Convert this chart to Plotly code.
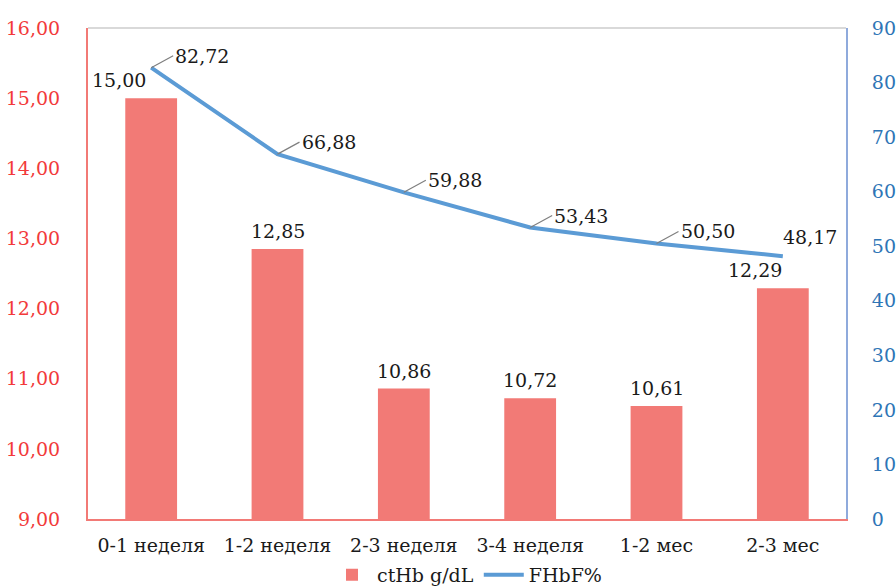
import plotly.graph_objects as go

categories = ["0-1 неделя", "1-2 неделя", "2-3 неделя", "3-4 неделя", "1-2 мес", "2-3 мес"]
cthb = [15.00, 12.85, 10.86, 10.72, 10.61, 12.29]
fhbf = [82.72, 66.88, 59.88, 53.43, 50.50, 48.17]
left_ticks = [9, 10, 11, 12, 13, 14, 15, 16]
right_ticks = [0, 10, 20, 30, 40, 50, 60, 70, 80, 90]

BAR_COLOR = "#F27A76"
LINE_COLOR = "#5B9BD5"
LEFT_COLOR = "#F23A3A"
RIGHT_COLOR = "#2E75B6"
FONT = "DejaVu Serif"
SIZE = 19


def fmt(v):
    return f"{v:.2f}".replace(".", ",")


fig = go.Figure()
fig.add_trace(go.Bar(
    x=categories, y=cthb, name="ctHb g/dL",
    marker=dict(color=BAR_COLOR, line=dict(width=0)),
    width=0.41,
))
fig.add_trace(go.Scatter(
    x=categories, y=fhbf, name="FHbF%", yaxis="y2", mode="lines",
    line=dict(color=LINE_COLOR, width=4),
))

# Bar value labels (first and last nudged left)
bar_shift = [-32, 0, 0, 0, 0, -28]
for c, v, s in zip(categories, cthb, bar_shift):
    fig.add_annotation(
        x=c, y=v, xref="x", yref="y", text=fmt(v), showarrow=False,
        yanchor="bottom", yshift=5, xshift=s,
        font=dict(family=FONT, size=SIZE, color="#1a1a1a"),
    )

# Line value labels with short gray leader lines
for i, (c, v) in enumerate(zip(categories, fhbf)):
    if i == len(categories) - 1:
        fig.add_annotation(
            x=c, y=v, xref="x", yref="y2", text=fmt(v), showarrow=False,
            xanchor="left", yanchor="bottom", xshift=-2, yshift=6,
            font=dict(family=FONT, size=SIZE, color="#1a1a1a"),
        )
    else:
        fig.add_annotation(
            x=c, y=v, xref="x", yref="y2", text=fmt(v), showarrow=True,
            arrowhead=0, arrowwidth=1.2, arrowcolor="#7f7f7f",
            ax=22, ay=-12, xanchor="left", yanchor="middle",
            font=dict(family=FONT, size=SIZE, color="#1a1a1a"),
        )

# light top border of the plot area
fig.add_shape(type="line", xref="paper", yref="paper", x0=0, x1=1, y0=1, y1=1,
              line=dict(color="#D9D9D9", width=2))

fig.update_layout(
    width=896, height=588,
    margin=dict(l=88, r=50, t=28, b=69, autoexpand=False),
    plot_bgcolor="white", paper_bgcolor="white",
    font=dict(family=FONT, size=SIZE, color="#1a1a1a"),
    bargap=0.59,
    showlegend=True,
    legend=dict(orientation="h", x=0.5, xanchor="center",
                y=-0.075, yanchor="top",
                bgcolor="rgba(0,0,0,0)",
                font=dict(family=FONT, size=SIZE, color="#1a1a1a"),
                itemwidth=40, tracegroupgap=0),
    xaxis=dict(
        showgrid=False, showline=True, linecolor=BAR_COLOR, linewidth=2,
        ticks="", automargin=False, ticklabelstandoff=8,
        tickfont=dict(family=FONT, size=SIZE, color="#1a1a1a"),
    ),
    yaxis=dict(
        range=[9, 16], tickvals=left_ticks,
        ticktext=[fmt(t) for t in left_ticks], automargin=False,
        showgrid=False, zeroline=False, showline=True, linecolor=BAR_COLOR, linewidth=2,
        tickfont=dict(family=FONT, size=SIZE, color=LEFT_COLOR), ticklabelstandoff=22,
    ),
    yaxis2=dict(
        range=[0, 90], tickvals=right_ticks, overlaying="y", side="right",
        automargin=False,
        showgrid=False, zeroline=False, showline=True, linecolor="#8FAADC", linewidth=2,
        tickfont=dict(family=FONT, size=SIZE, color=RIGHT_COLOR), ticklabelstandoff=20,
    ),
)

fig.write_html("out.html")
